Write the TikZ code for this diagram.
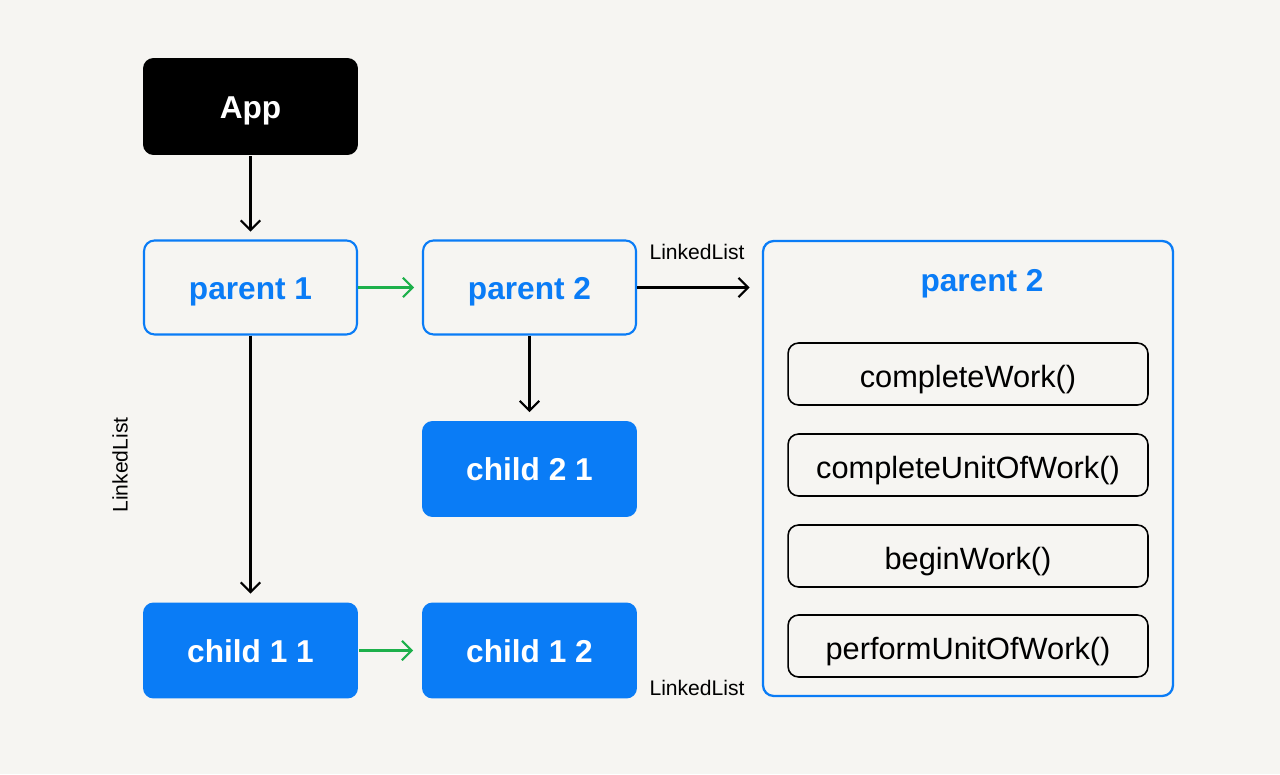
\documentclass[tikz,border=0pt]{standalone}
\usepackage{fontspec}
\setmainfont{Liberation Sans}
\usetikzlibrary{arrows.meta}
\definecolor{nodeblue}{HTML}{0A7CF6}
\definecolor{nextgreen}{HTML}{1DB04B}
\definecolor{paper}{HTML}{F6F5F2}

\begin{document}
\begin{tikzpicture}[x=0.02cm,y=0.02cm,line width=1.2pt,>={Straight Barb[length=5.5pt,width=11pt]},
    app node/.style={rectangle,rounded corners=6pt,fill=black,text=white,minimum width=4.3cm,minimum height=1.94cm,text height=13.4pt,text depth=0pt,font=\fontsize{18}{21}\selectfont\bfseries},
    parent node/.style={rectangle,rounded corners=6pt,draw=nodeblue,fill=paper,text=nodeblue,minimum width=4.26cm,minimum height=1.88cm,text height=13.4pt,text depth=0pt,font=\fontsize{18}{21}\selectfont\bfseries},
    child node/.style={rectangle,rounded corners=6pt,fill=nodeblue,text=white,minimum width=4.3cm,minimum height=1.92cm,text height=13.4pt,text depth=0pt,font=\fontsize{18}{21}\selectfont\bfseries},
    work node/.style={rectangle,rounded corners=6pt,draw=black,line width=0.9pt,fill=paper,minimum width=7.2cm,minimum height=1.24cm,text height=15pt,text depth=0pt,font=\fontsize{17.5}{20}\selectfont},
    list label/.style={font=\fontsize{12}{14}\selectfont},
    next arrow/.style={->,draw=nextgreen,line width=1.2pt,shorten >=4.5pt},
    down arrow/.style={->,draw=black,line width=1.2pt,shorten >=4.5pt}]
    \fill[paper] (0,0) rectangle (1280,774);

    \node[app node] (A) at (250.5,667.5) {App};
    \node[parent node] (P1) at (250.5,486.5) {parent 1};
    \node[parent node] (P2) at (529.5,486.5) {parent 2};
    \node[child node] (C21) at (529.5,305) {child 2 1};
    \node[child node] (C11) at (250.5,123.5) {child 1 1};
    \node[child node] (C12) at (529.5,123.5) {child 1 2};

    \node[rectangle,rounded corners=6pt,draw=nodeblue,line width=1.3pt,minimum width=8.2cm,minimum height=9.1cm] (L) at (968,305.5) {};
    \node[text=nodeblue,text height=13pt,text depth=0pt,font=\fontsize{18}{21}\selectfont\bfseries] (T) at (982,494) {parent 2};
    \node[work node] (W1) at (968,400) {completeWork()};
    \node[work node] (W2) at (968,309) {completeUnitOfWork()};
    \node[work node] (W3) at (968,218) {beginWork()};
    \node[work node] (W4) at (968,128) {performUnitOfWork()};

    \node[list label] (N1) at (697,522) {LinkedList};
    \node[list label,rotate=90] (N2) at (120,309) {LinkedList};
    \node[list label] (N3) at (697,86) {LinkedList};

    \draw [down arrow] (A) -- (P1);
    \draw [down arrow] (P1) -- (C11);
    \draw [down arrow] (P2) -- (C21);
    \draw [next arrow] (P1) -- (P2);
    \draw [next arrow] (C11) -- (C12);
    \draw [down arrow,shorten >=7pt] (P2.east) -- (P2.east -| L.west);
\end{tikzpicture}
\end{document}
